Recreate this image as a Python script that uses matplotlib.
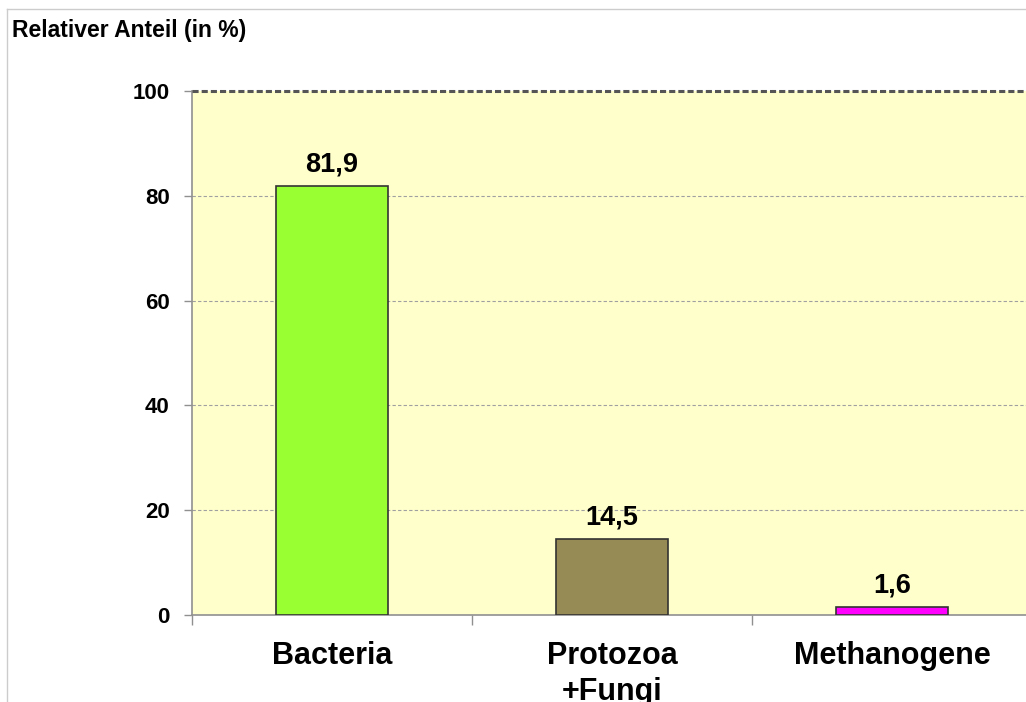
import matplotlib
matplotlib.use('Agg')
import matplotlib.pyplot as plt
from matplotlib.lines import Line2D
import numpy as np

# Data
categories = ['Bacteria', 'Protozoa\n+Fungi', 'Methanogene']
values = [81.9, 14.5, 1.6]
value_labels = ['81,9', '14,5', '1,6']
bar_colors = ['#99ff33', '#968b54', '#ff00ff']
y_ticks = [0, 20, 40, 60, 80, 100]

plt.rcParams['font.family'] = ['Liberation Sans', 'DejaVu Sans']
plt.rcParams['font.weight'] = 'bold'

fig = plt.figure(figsize=(10.26, 7.02), dpi=100)
ax = fig.add_axes([192 / 1026, 1 - 615 / 702, 840 / 1026, 524 / 702])
ax.set_facecolor('#ffffcc')

x = np.arange(len(categories))
ax.bar(x, values, width=0.40, color=bar_colors, edgecolor='#333333',
       linewidth=1.2, zorder=3)

for xi, v, lab in zip(x, values, value_labels):
    ax.annotate(lab, (xi, v), xytext=(0, 6), textcoords='offset points',
                ha='center', va='bottom', fontsize=19.5, fontweight='bold')

ax.set_xlim(-0.5, 2.5)
ax.set_ylim(0, 100)
ax.set_yticks(y_ticks)
ax.set_yticklabels([str(t) for t in y_ticks], fontsize=16, fontweight='bold')

# gridlines
for t in y_ticks[1:-1]:
    ax.axhline(t, color='#a0a0a0', linestyle=(0, (3, 2)), linewidth=0.8, zorder=1)
ax.axhline(100, color='#555555', linestyle=(0, (2, 1)), linewidth=2.2, zorder=4,
           clip_on=False)

# category labels between boundary ticks
ax.set_xticks([-0.5, 0.5, 1.5, 2.5])
ax.set_xticklabels([])
ax.tick_params(axis='x', length=7, width=1, color='#909090', direction='out')
ax.tick_params(axis='y', length=6, width=1, color='#909090', pad=10)
for xi, cat in zip(x, categories):
    ax.text(xi, -5.0, cat, ha='center', va='top', fontsize=22,
            fontweight='bold', linespacing=1.25, transform=ax.transData,
            clip_on=False)

for s in ['top', 'right']:
    ax.spines[s].set_visible(False)
ax.spines['left'].set_color('#909090')
ax.spines['bottom'].set_color('#909090')
ax.spines['left'].set_linewidth(1.2)
ax.spines['bottom'].set_linewidth(1.2)

fig.text(12 / 1026, 1 - 30 / 702, 'Relativer Anteil (in %)', ha='left',
         va='center', fontsize=16.5, fontweight='bold')

# outer frame
fig.add_artist(Line2D([7 / 1026, 1], [1 - 9 / 702, 1 - 9 / 702],
                      color='#cccccc', linewidth=1))
fig.add_artist(Line2D([7 / 1026, 7 / 1026], [0, 1 - 9 / 702],
                      color='#cccccc', linewidth=1))

fig.savefig('out.png', dpi=100)
